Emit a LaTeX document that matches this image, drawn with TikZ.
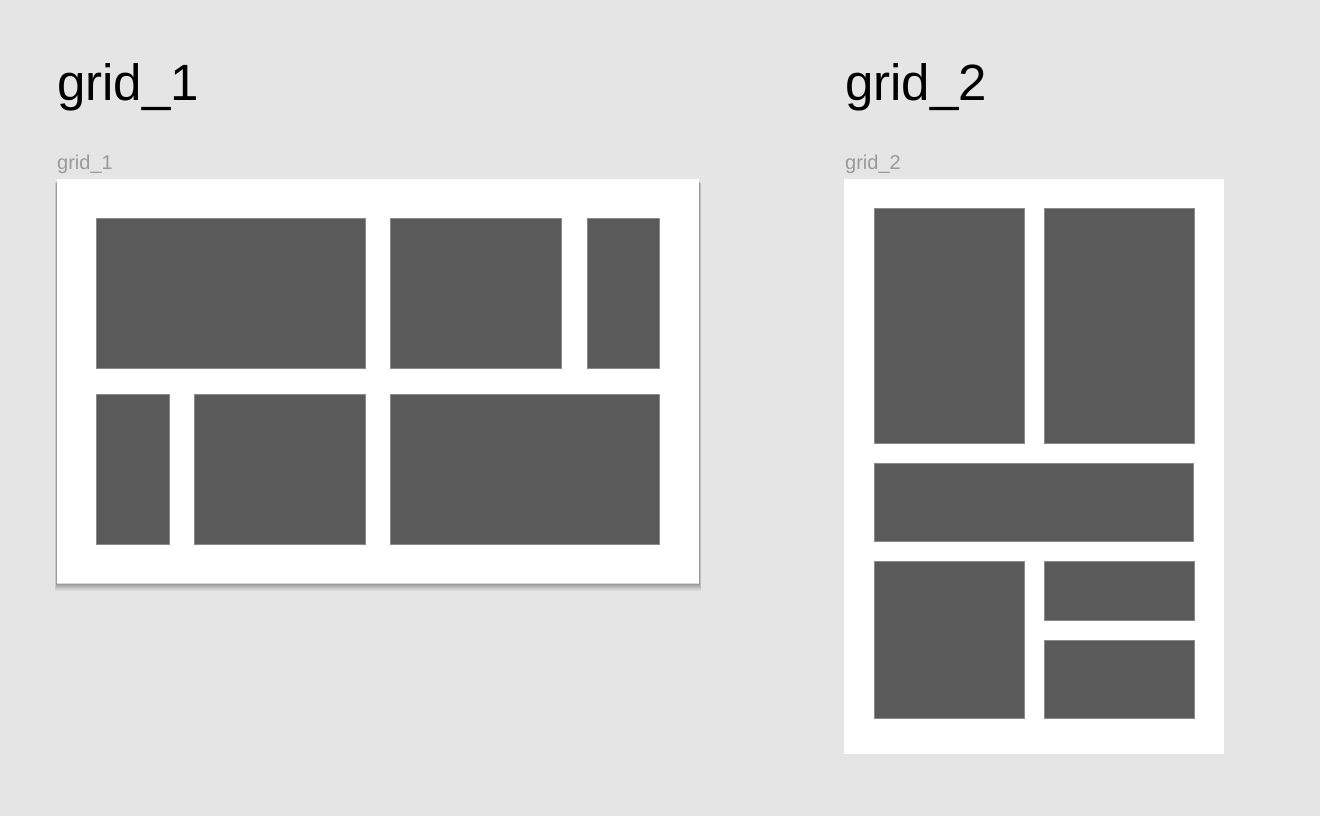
\documentclass[tikz,border=0pt]{standalone}
\usepackage{fontspec}
\setmainfont{Liberation Sans}
\definecolor{bgc}{HTML}{E5E5E5}
\definecolor{cellc}{HTML}{5A5A5A}
\definecolor{celledge}{HTML}{8A8A8A}
\definecolor{labelc}{HTML}{9A9A9A}
\begin{document}
\begin{tikzpicture}[x=1pt,y=-1pt,
  frame/.style={fill=white},
  cell/.style={fill=cellc,draw=celledge,line width=0.6pt},
  title/.style={anchor=base west,inner sep=0pt,font=\fontsize{51}{60}\selectfont,text=black},
  tag/.style={anchor=base west,inner sep=0pt,font=\fontsize{20}{24}\selectfont,text=labelc}]
\useasboundingbox (0,0) rectangle (1320,816);
\fill[bgc] (0,0) rectangle (1320,816);
% titles
\node[title] (t1) at (57,100) {grid\_1};
\node[title] (t2) at (845,100) {grid\_2};
\node[tag] (l1) at (57,169) {grid\_1};
\node[tag] (l2) at (845,169) {grid\_2};
% soft shadow of grid_1
\foreach \d/\o in {8/0.035,7/0.04,6/0.045,5/0.05,4/0.055,3/0.06,2/0.07,1/0.08}{
  \fill[black,opacity=\o] (57-\d*0.3,181+\d*0.3) rectangle (699+\d*0.3,583+\d);
}
% grid_1 frame
\fill[frame] (57,179) rectangle (699,583);
\draw[black!15,line width=0.6pt] (57,583) -- (699,583);
\draw[cell] (96,218) rectangle (365,368);
\draw[cell] (390,218) rectangle (561,368);
\draw[cell] (587,218) rectangle (659,368);
\draw[cell] (96,394) rectangle (169,544);
\draw[cell] (194,394) rectangle (365,544);
\draw[cell] (390,394) rectangle (659,544);
% grid_2 frame
\fill[frame] (844,179) rectangle (1224,754);
\draw[cell] (874,208) rectangle (1024,443);
\draw[cell] (1044,208) rectangle (1194,443);
\draw[cell] (874,463) rectangle (1193,541);
\draw[cell] (874,561) rectangle (1024,718);
\draw[cell] (1044,561) rectangle (1194,620);
\draw[cell] (1044,640) rectangle (1194,718);
\end{tikzpicture}
\end{document}
